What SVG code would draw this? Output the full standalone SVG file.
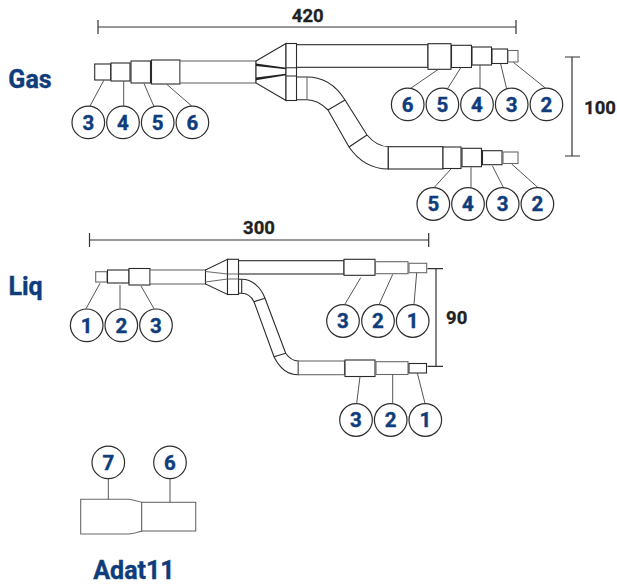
<svg xmlns="http://www.w3.org/2000/svg" width="617" height="585" viewBox="0 0 617 585">
<style>
.p{fill:#fff;stroke:#2a2a2a;stroke-width:1.1}
.g{fill:#fff;stroke:#6a6a6a;stroke-width:1.1}
.n{fill:none;stroke:#2a2a2a;stroke-width:1.1}
.w{fill:#222;stroke:none}
.l{fill:none;stroke:#555;stroke-width:1}
.d{fill:none;stroke:#333;stroke-width:1.2}
.c{fill:#fff;stroke:#2e2e2e;stroke-width:1.2}
.t{font-family:Roboto,"Liberation Sans",sans-serif;font-weight:700;text-anchor:middle}
.b{fill:#0f3d7c;stroke:#0f3d7c;stroke-width:.4;font-size:20.5px}
.k{fill:#222;stroke:#222;stroke-width:.3;font-size:18.5px}
.h{fill:#0f3d7c;stroke:#0f3d7c;stroke-width:.4;font-size:25px}
</style>
<rect width="617" height="585" fill="#fff"/>
<g id="gas-pipes">
<rect class="p" x="94.7" y="64" width="16" height="16"/>
<rect class="p" x="111" y="63" width="19" height="18"/>
<rect class="p" x="131" y="61" width="19.5" height="22"/>
<rect class="p" x="151.5" y="60" width="28.5" height="24"/>
<rect class="g" x="180" y="61" width="76" height="22"/>
<path class="p" d="M256 61L286 43.5V100.5L256 83Z"/>
<path class="w" d="M256 63.5L286 67.7V69.2L256 66ZM256 77.5L286 73.8V75.3L256 80.3Z"/>
<rect class="p" x="296" y="44.7" width="132" height="22.6"/>
<rect class="p" x="428" y="43.7" width="23" height="25.6"/>
<rect class="p" x="451.5" y="45.3" width="20" height="22.2"/>
<rect class="p" x="472" y="47" width="19.5" height="18"/>
<rect class="p" x="492" y="49" width="15.5" height="14.5"/>
<rect class="g" x="508" y="50.5" width="10" height="11.5"/>
<path class="p" d="M296 77H307C325 77 337 87 345 100L367 135C373 142 379 146.7 388.3 146.7V169C370 169 358 160 349 147L328 110C321 103 315 99.7 307 99.7H296Z"/>
<path class="n" d="M345 100L328 110M367 135L349 147"/>
<path class="g" d="M307 77V99.7"/>
<rect class="p" x="286" y="43.5" width="10.5" height="57"/>
<path class="n" d="M286 67.7H296.5M286 76H296.5"/>
<rect class="p" x="388.3" y="146.7" width="54.7" height="22.3"/>
<rect class="p" x="443" y="147" width="18" height="21.5"/>
<rect class="p" x="462" y="148.3" width="19.5" height="18.4"/>
<rect class="p" x="482.5" y="150.7" width="19.5" height="14"/>
<rect class="g" x="503" y="152" width="15" height="11.5"/>
</g>
<g id="liq-pipes">
<rect class="g" x="95.7" y="271.7" width="11.3" height="10.3"/>
<rect class="p" x="107.5" y="270" width="21.5" height="13"/>
<rect class="p" x="129" y="268.5" width="21" height="16.5"/>
<rect class="g" x="150" y="270" width="55.5" height="14"/>
<path class="p" d="M205.5 270L227.5 259.3V294.5L205.5 284Z"/>
<path class="g" d="M205.5 271.5L227.5 274M205.5 282L227.5 279"/>
<rect class="p" x="238.5" y="260.7" width="105.5" height="13.3"/>
<rect class="p" x="344" y="259.3" width="31" height="16"/>
<rect class="g" x="375.5" y="261.7" width="32.5" height="12"/>
<rect class="g" x="409" y="263.3" width="17.7" height="9.4"/>
<path class="p" d="M238.5 279.3H241.7C252 279.3 261 287 265 298.3L285.7 353.3C289 358 293 361 298.3 361V374.7C287 374.7 279 367 274 356.7L254 301.7C251 296 247 293.3 241.7 293.3H238.5Z"/>
<path class="n" d="M265 298.3L254 301.7M285.7 353.3L274 356.7M241.7 279.3V293.3"/>
<rect class="p" x="227.5" y="259.3" width="11" height="35.2"/>
<path class="g" d="M227.5 274H238.5M227.5 279H238.5"/>
<rect class="g" x="298.3" y="361" width="46.2" height="13.7"/>
<rect class="p" x="345" y="360" width="30" height="16.5"/>
<rect class="g" x="376" y="361.7" width="32" height="12.8"/>
<rect class="p" x="409" y="363.5" width="17.5" height="9.5"/>
</g>
<g id="adapter">
<path class="g" d="M80.7 499.3H129L135 500.5L141.7 502.3V531L135 533L129 534H80.7Z"/>
<rect class="g" x="141.7" y="502.3" width="54" height="28.7"/>
</g>
<g id="connectors">
<path class="d" d="M98 27H516M98 20V34M516 20V34M572 57V156M565 57H580M565 156H580M89.5 240H428.7M89.5 233V247M428.7 233V247M436 268.7V366.3M427.5 268.7H443M427.5 366.3H443"/>
<path class="l" d="M104 80L90 106M123.7 81V106M144 83.5L153.7 106M166.7 84.3L191.7 106M438.3 69.3L410.7 88.3M461 67.3L447.3 89M480 65V88.3M500.7 64L506.7 89M513.3 62.3L545.7 88.3M451 169L434.3 187.3M471 167.3V187.3M492.3 165.7L503.3 187.3M511.7 164L537.7 187.3M100 283.3L86 308.7M120 285V308.7M141 286L154 308.7M360.7 277.7L345 304M392.7 274.3L379.3 304M416.7 272.7L414 304M360 376.7L356.7 403.3M392.7 374V403.3M417.3 373L425 403.3M108.3 479V499.3M170 479V502.3"/>
</g>
<g id="g3"><circle class="c" cx="88.3" cy="122.4" r="16.3"/><text class="t b" x="88.3" y="129.8">3</text></g>
<g id="g4"><circle class="c" cx="123" cy="122.4" r="16.3"/><text class="t b" x="123" y="129.8">4</text></g>
<g id="g5"><circle class="c" cx="157.7" cy="122.4" r="16.3"/><text class="t b" x="157.7" y="129.8">5</text></g>
<g id="g6"><circle class="c" cx="192.4" cy="122.4" r="16.3"/><text class="t b" x="192.4" y="129.8">6</text></g>
<g id="u6"><circle class="c" cx="407.7" cy="104.4" r="16.3"/><text class="t b" x="407.7" y="111.8">6</text></g>
<g id="u5"><circle class="c" cx="442.4" cy="104.4" r="16.3"/><text class="t b" x="442.4" y="111.8">5</text></g>
<g id="u4"><circle class="c" cx="477" cy="104.4" r="16.3"/><text class="t b" x="477" y="111.8">4</text></g>
<g id="u3"><circle class="c" cx="511.7" cy="104.4" r="16.3"/><text class="t b" x="511.7" y="111.8">3</text></g>
<g id="u2"><circle class="c" cx="546.4" cy="104.4" r="16.3"/><text class="t b" x="546.4" y="111.8">2</text></g>
<g id="w5"><circle class="c" cx="433.3" cy="204" r="16.3"/><text class="t b" x="433.3" y="211.4">5</text></g>
<g id="w4"><circle class="c" cx="468" cy="204" r="16.3"/><text class="t b" x="468" y="211.4">4</text></g>
<g id="w3"><circle class="c" cx="502.7" cy="204" r="16.3"/><text class="t b" x="502.7" y="211.4">3</text></g>
<g id="w2"><circle class="c" cx="537.4" cy="204" r="16.3"/><text class="t b" x="537.4" y="211.4">2</text></g>
<g id="l1"><circle class="c" cx="86.7" cy="325.3" r="16.3"/><text class="t b" x="86.7" y="332.7">1</text></g>
<g id="l2"><circle class="c" cx="121.3" cy="325.3" r="16.3"/><text class="t b" x="121.3" y="332.7">2</text></g>
<g id="l3"><circle class="c" cx="156" cy="325.3" r="16.3"/><text class="t b" x="156" y="332.7">3</text></g>
<g id="m3"><circle class="c" cx="343" cy="321" r="16.3"/><text class="t b" x="343" y="328.4">3</text></g>
<g id="m2"><circle class="c" cx="378" cy="321" r="16.3"/><text class="t b" x="378" y="328.4">2</text></g>
<g id="m1"><circle class="c" cx="412.7" cy="321" r="16.3"/><text class="t b" x="412.7" y="328.4">1</text></g>
<g id="n3"><circle class="c" cx="356" cy="420" r="16.3"/><text class="t b" x="356" y="427.4">3</text></g>
<g id="n2"><circle class="c" cx="390.7" cy="420" r="16.3"/><text class="t b" x="390.7" y="427.4">2</text></g>
<g id="n1"><circle class="c" cx="425.3" cy="420" r="16.3"/><text class="t b" x="425.3" y="427.4">1</text></g>
<g id="a7"><circle class="c" cx="108.3" cy="462.4" r="16.3"/><text class="t b" x="108.3" y="469.8">7</text></g>
<g id="a6"><circle class="c" cx="170" cy="462.4" r="16.3"/><text class="t b" x="170" y="469.8">6</text></g>
<g id="labels">
<text class="t k" x="307.7" y="21.7">420</text>
<text class="t k" x="600" y="114">100</text>
<text class="t k" x="259" y="234">300</text>
<text class="t k" x="456.7" y="324">90</text>
<text class="t h" x="30" y="88">Gas</text>
<text class="t h" x="25.5" y="294.5">Liq</text>
<text class="t h" x="134" y="579">Adat11</text>
</g>
</svg>
